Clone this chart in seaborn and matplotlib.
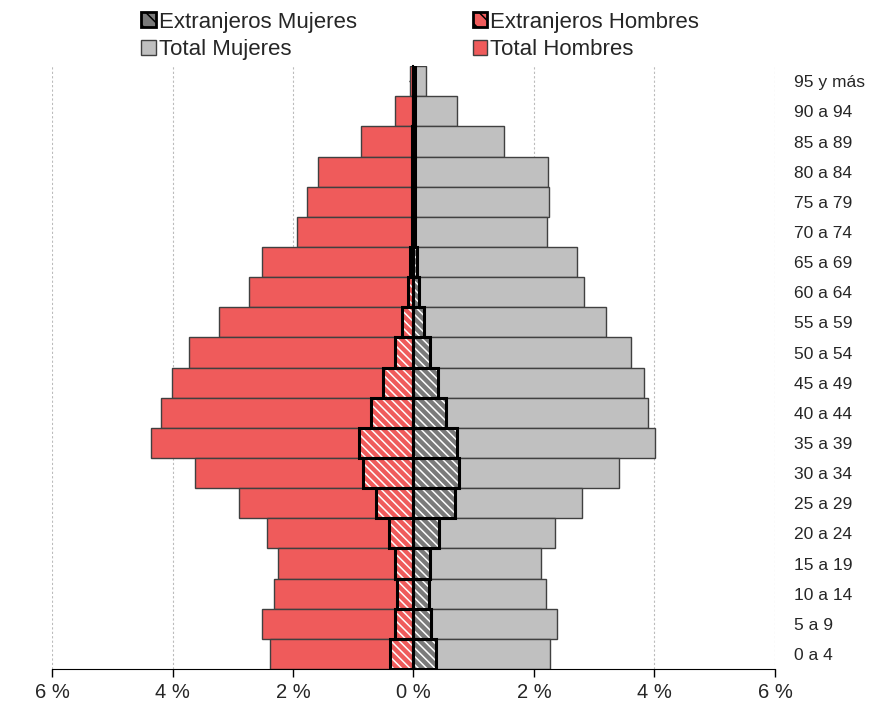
import numpy as np
import pandas as pd
import matplotlib
matplotlib.use("Agg")
import matplotlib.pyplot as plt
import seaborn as sns
from matplotlib.patches import Patch, Rectangle

# age groups, youngest first
groups = ["0 a 4", "5 a 9", "10 a 14", "15 a 19", "20 a 24", "25 a 29", "30 a 34",
          "35 a 39", "40 a 44", "45 a 49", "50 a 54", "55 a 59", "60 a 64", "65 a 69",
          "70 a 74", "75 a 79", "80 a 84", "85 a 89", "90 a 94", "95 y más"]

# % of total population
total_hombres = [2.38, 2.51, 2.32, 2.25, 2.43, 2.90, 3.63, 4.36, 4.19, 4.01,
                 3.73, 3.23, 2.73, 2.51, 1.93, 1.77, 1.59, 0.87, 0.31, 0.06]
total_mujeres = [2.27, 2.38, 2.20, 2.12, 2.35, 2.80, 3.41, 4.01, 3.89, 3.83,
                 3.61, 3.20, 2.83, 2.71, 2.22, 2.25, 2.23, 1.50, 0.72, 0.21]
extr_hombres = [0.39, 0.31, 0.27, 0.31, 0.41, 0.62, 0.84, 0.90, 0.71, 0.51,
                0.31, 0.19, 0.09, 0.05, 0.03, 0.02, 0.02, 0.02, 0.01, 0.01]
extr_mujeres = [0.37, 0.29, 0.26, 0.27, 0.42, 0.69, 0.76, 0.72, 0.54, 0.40,
                0.27, 0.18, 0.09, 0.06, 0.03, 0.03, 0.03, 0.02, 0.02, 0.02]

RED = "#EF5B5B"
LIGHT = "#C0C0C0"
DARK = "#7A7A7A"
HATCH = "\\\\\\\\"

sns.set_style("white")
plt.rcParams["font.family"] = ["Liberation Sans", "DejaVu Sans"]
plt.rcParams["hatch.linewidth"] = 1.1

df = pd.DataFrame({"grupo": groups,
                   "th": -np.array(total_hombres), "tm": total_mujeres,
                   "eh": -np.array(extr_hombres), "em": extr_mujeres})
order = groups[::-1]

fig, ax = plt.subplots(figsize=(8.73, 7.04), dpi=100)
fig.subplots_adjust(left=0.0596, right=0.8877, top=0.906, bottom=0.0497)

# totals
for col, c in [("th", RED), ("tm", LIGHT)]:
    sns.barplot(data=df, x=col, y="grupo", order=order, orient="h", width=1,
                color=c, saturation=1, edgecolor="#404040", linewidth=1, ax=ax)

# foreigners: white-hatched fill plus a thick black outline
n_before = len(ax.patches)
for col, c in [("eh", RED), ("em", DARK)]:
    sns.barplot(data=df, x=col, y="grupo", order=order, orient="h", width=1,
                color=c, saturation=1, linewidth=0, ax=ax)
for p in list(ax.patches[n_before:]):
    p.set_hatch(HATCH)
    p.set_edgecolor("white")
    p.set_linewidth(0)
    p.set_zorder(3)
    ax.add_patch(Rectangle(p.get_xy(), p.get_width(), p.get_height(), fill=False,
                           edgecolor="black", linewidth=2.2, zorder=4))

ax.set_xlim(-6, 6)
ax.set_ylim(len(groups) - 0.5, -0.5)
ax.set_xticks(np.arange(-6, 7, 2))
ax.set_xticklabels([f"{abs(v)} %" for v in range(-6, 7, 2)], fontsize=14.5)
ax.tick_params(axis="x", bottom=True, length=6, width=1, color="black", pad=4)
ax.xaxis.grid(True, color="#BBBBBB", linestyle=(0, (2, 2)), linewidth=0.8)
ax.set_axisbelow(True)
ax.set_xlabel("")
ax.set_ylabel("")

for s in ["top", "right"]:
    ax.spines[s].set_visible(False)
ax.spines["bottom"].set_color("black")
ax.spines["left"].set_position(("data", 0))
ax.spines["left"].set_color("black")
ax.spines["left"].set_linewidth(1.5)
ax.spines["left"].set_zorder(5)
ax.tick_params(axis="y", left=True, length=3, width=1, color="black", labelleft=False)

# age labels on the right
ax2 = ax.twinx()
ax2.set_ylim(ax.get_ylim())
ax2.set_yticks(range(len(order)))
ax2.set_yticklabels(order, fontsize=12.5)
ax2.tick_params(axis="y", length=0, pad=14)
for s in ax2.spines.values():
    s.set_visible(False)

handles = [
    Patch(facecolor=DARK, edgecolor="black", hatch="\\\\", linewidth=2),
    Patch(facecolor=LIGHT, edgecolor="#404040", linewidth=1),
    Patch(facecolor=RED, edgecolor="black", hatch="\\\\", linewidth=2),
    Patch(facecolor=RED, edgecolor="#404040", linewidth=1),
]
labels = ["Extranjeros Mujeres", "Total Mujeres", "Extranjeros Hombres", "Total Hombres"]
fig.legend(handles, labels, ncol=2, loc="upper left", bbox_to_anchor=(0.139, 1.012),
           frameon=False, fontsize=16, handlelength=0.65, handleheight=0.65,
           handletextpad=0.15, columnspacing=5.2, labelspacing=0.3)

plt.savefig("out.png", dpi=100)
